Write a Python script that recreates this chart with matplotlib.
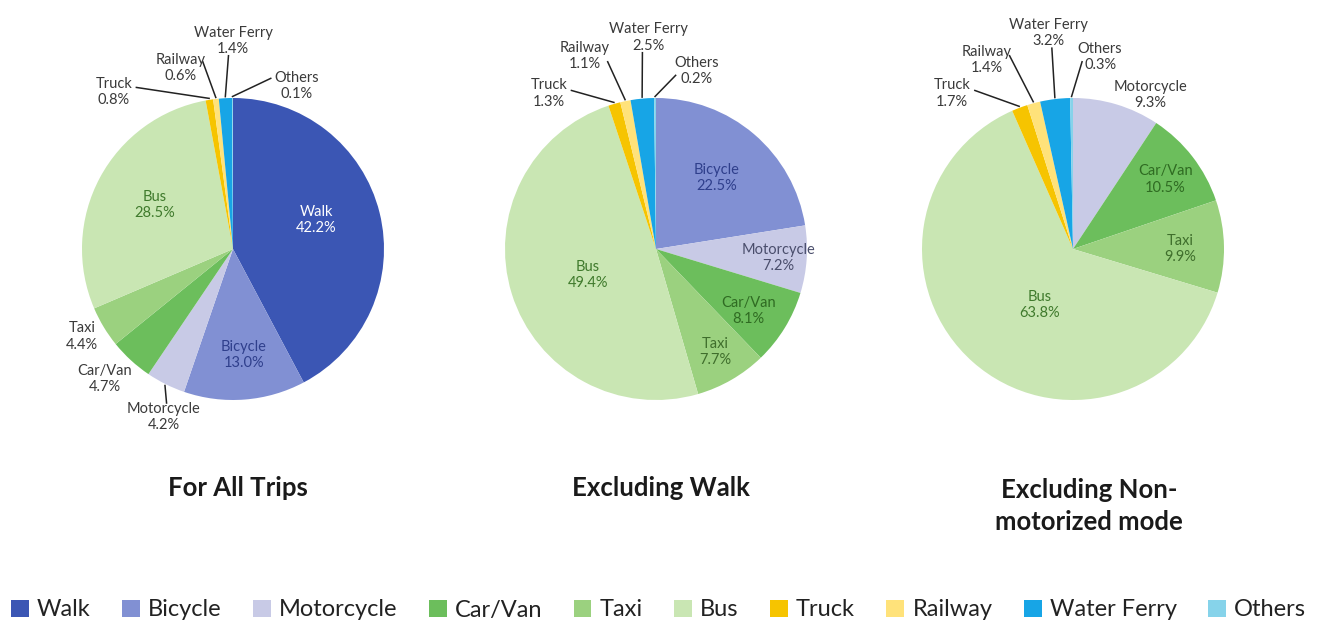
import numpy as np
import matplotlib
matplotlib.use("Agg")
import matplotlib.pyplot as plt
from matplotlib.patches import Patch

plt.rcParams["font.family"] = ["Lato", "DejaVu Sans"]

# categories and colours (clockwise from 12 o'clock)
modes = ["Walk", "Bicycle", "Motorcycle", "Car/Van", "Taxi", "Bus",
         "Truck", "Railway", "Water Ferry", "Others"]
colors = ["#3B56B4", "#8190D3", "#C8CAE6", "#6CBE5C", "#9BD17F", "#C9E6B3",
          "#F6C400", "#FFE27A", "#17A5E6", "#86D3EA"]

all_trips = [42.2, 13.0, 4.2, 4.7, 4.4, 28.5, 0.8, 0.6, 1.4, 0.1]
excl_walk = [0, 22.5, 7.2, 8.1, 7.7, 49.4, 1.3, 1.1, 2.5, 0.2]
excl_nonmotor = [0, 0, 9.3, 10.5, 9.9, 63.8, 1.7, 1.4, 3.2, 0.3]

titles = ["For All Trips", "Excluding Walk", "Excluding Non-\nmotorized mode"]
values = [all_trips, excl_walk, excl_nonmotor]

# label placement per pie: mode -> (dx, dy, colour, leader start or None)  (units of pie radius)
INK = "#3a3a3a"
label_pos = [
    {"Walk": (0.55, 0.19, "white", None),
     "Bicycle": (0.07, -0.70, "#2F3F8C", None),
     "Motorcycle": (-0.46, -1.11, INK, (-0.44, -1.02)),
     "Car/Van": (-0.85, -0.86, INK, None),
     "Taxi": (-1.00, -0.58, INK, None),
     "Bus": (-0.52, 0.29, "#3F7A2C", None),
     "Truck": (-0.79, 1.04, INK, (-0.64, 1.07)),
     "Railway": (-0.35, 1.20, INK, (-0.20, 1.24)),
     "Water Ferry": (0.0, 1.38, INK, (-0.03, 1.28)),
     "Others": (0.42, 1.08, INK, (0.25, 1.13))},
    {"Bicycle": (0.40, 0.47, "#2F3F8C", None),
     "Motorcycle": (0.81, -0.06, "#4A4E6C", None),
     "Car/Van": (0.61, -0.41, "#2F6B22", None),
     "Taxi": (0.39, -0.68, "#3F6E2C", None),
     "Bus": (-0.45, -0.17, "#3F7A2C", None),
     "Truck": (-0.71, 1.03, INK, (-0.56, 1.05)),
     "Railway": (-0.47, 1.28, INK, (-0.32, 1.24)),
     "Water Ferry": (-0.05, 1.40, INK, (-0.09, 1.30)),
     "Others": (0.27, 1.18, INK, (0.13, 1.15))},
    {"Motorcycle": (0.51, 1.02, INK, None),
     "Car/Van": (0.61, 0.46, "#2F6B22", None),
     "Taxi": (0.71, 0.0, "#3F6E2C", None),
     "Bus": (-0.22, -0.37, "#3F7A2C", None),
     "Truck": (-0.80, 1.03, INK, (-0.65, 1.05)),
     "Railway": (-0.57, 1.25, INK, (-0.42, 1.28)),
     "Water Ferry": (-0.16, 1.43, INK, (-0.14, 1.33)),
     "Others": (0.18, 1.27, INK, (0.06, 1.24))},
]

W, H = 1325, 625
fig = plt.figure(figsize=(W / 100, H / 100), dpi=100)
R = 151          # pie radius in px
L = 1.5          # half-extent of axes in radius units
centers = [(233, 249), (656, 249), (1073, 249)]

for k, (vals, title) in enumerate(zip(values, titles)):
    cx, cy = centers[k]
    half = L * R
    ax = fig.add_axes([(cx - half) / W, (H - cy - half) / H, 2 * half / W, 2 * half / H])
    wedges, _ = ax.pie(vals, colors=colors, startangle=90, counterclock=False,
                       radius=1.0, wedgeprops=dict(linewidth=0))
    ax.set_xlim(-L, L); ax.set_ylim(-L, L); ax.set_aspect("equal"); ax.axis("off")
    total = sum(vals)
    cum = 0.0
    for m, v in zip(modes, vals):
        if v == 0:
            continue
        mid = 90 - 360 * (cum + v / 2) / total
        cum += v
        dx, dy, col, start = label_pos[k][m]
        ax.text(dx, dy, f"{m}\n{v:.1f}%", ha="center", va="center", fontsize=10.5,
                color=col, linespacing=1.2, clip_on=False)
        if start is not None:
            ex, ey = np.cos(np.radians(mid)) * 1.01, np.sin(np.radians(mid)) * 1.01
            ax.plot([start[0], ex], [start[1], ey], color="#222222", lw=1.1,
                    clip_on=False)
    fig.text(cx / W + (0.012 if k == 2 else 0.004), 1 - (488 if k < 2 else 506) / H, title,
             ha="center", va="center", fontsize=18.5, fontweight="bold", color="#1a1a1a",
             linespacing=1.35)

handles = [Patch(facecolor=c, edgecolor="none") for c in colors]
fig.legend(handles, modes, loc="center", bbox_to_anchor=(0.497, 1 - 610 / H), ncol=10,
           frameon=False, fontsize=17, handlelength=0.75, handleheight=0.75,
           handletextpad=0.35, columnspacing=1.33, labelcolor="#222222")

fig.savefig("out.png", dpi=100, facecolor="white")
